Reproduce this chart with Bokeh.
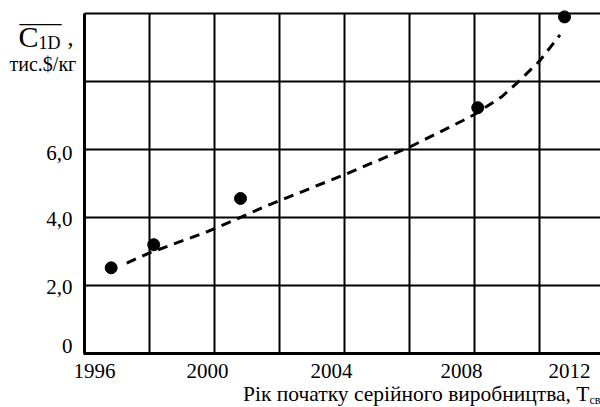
from bokeh.plotting import figure
from bokeh.models import FixedTicker, Label, Range1d
from bokeh.embed import file_html
from bokeh.resources import INLINE

# ---- data ----
dot_years = [1996.82, 1998.13, 2000.8, 2008.1, 2010.77]
dot_values = [2.52, 3.2, 4.56, 7.23, 9.9]

curve_years = [1997.3, 1998.0, 1999.8, 2001.7, 2004.0, 2006.0, 2007.66, 2008.0, 2008.85, 2009.4, 2010.0, 2010.63]
curve_values = [2.66, 2.96, 3.59, 4.38, 5.26, 6.07, 6.86, 7.03, 7.56, 8.04, 8.6, 9.37]

x_tick_years = [1996, 2000, 2004, 2008, 2012]
x_tick_labels = ["1996", "2000", "2004", "2008", "2012"]
y_tick_values = [0, 2, 4, 6]
y_tick_labels = ["0", "2,0", "4,0", "6,0"]
x_grid_years = [1998, 2000, 2002, 2004, 2006, 2008, 2010]
y_grid_values = [2, 4, 6, 8, 10]

x_title = "Рік початку серійного виробництва, Т"
x_title_sub = "св"
y_title_main = "C"
y_title_sub = "1D"
y_units = "тис.$/кг"

# ---- layout ----
FONT = "Liberation Serif"
W, H = 600, 407
AX_X, AX_Y = 84, 353          # page position of the axes' corner
px_per_year = 32.5
px_per_unit = 34.0
x0, y0 = 1996, 0
x_start = x0 - AX_X / px_per_year
x_end = x0 + (W - AX_X) / px_per_year
y_start = y0 - (H - AX_Y) / px_per_unit
y_end = 10 + (AX_Y - 10 * px_per_unit) / px_per_unit
x_label_shift_px = [10, -7, -13, -13, -35]  # tick labels are offset in the original
y_label_shift_px = [8, -1, -1, -3]
x_tick_pos = [v + s / px_per_year for v, s in zip(x_tick_years, x_label_shift_px)]
y_tick_pos = [v + s / px_per_unit for v, s in zip(y_tick_values, y_label_shift_px)]

p = figure(width=W, height=H, output_backend="svg", toolbar_location=None,
           x_range=Range1d(x_start, x_end), y_range=Range1d(y_start, y_end),
           min_border=0, min_border_left=0, min_border_right=0,
           min_border_top=0, min_border_bottom=0)
p.outline_line_color = None
p.background_fill_color = "white"
p.border_fill_color = "white"

# grid
p.xgrid.ticker = FixedTicker(ticks=x_grid_years)
p.ygrid.ticker = FixedTicker(ticks=y_grid_values)
p.xgrid.cross_bounds = (0, 10)
p.ygrid.cross_bounds = (x0, x_end)
for g in (p.xgrid, p.ygrid):
    g.grid_line_color = "black"
    g.grid_line_width = 2
    g.grid_line_alpha = 1

# axes (fixed at the data origin so that the frame covers the whole canvas)
p.xaxis.fixed_location = y0
p.yaxis.fixed_location = x0
p.xaxis.ticker = FixedTicker(ticks=x_tick_pos)
p.xaxis.major_label_overrides = {t: l for t, l in zip(x_tick_pos, x_tick_labels)}
p.yaxis.ticker = FixedTicker(ticks=y_tick_pos)
p.yaxis.major_label_overrides = {t: l for t, l in zip(y_tick_pos, y_tick_labels)}
p.xaxis.bounds = (x0 - 0.04, x_end)
p.yaxis.bounds = (0, 10)
for ax in (p.xaxis, p.yaxis):
    ax.axis_line_width = 3
    ax.axis_line_color = "black"
    ax.major_tick_line_color = None
    ax.minor_tick_line_color = None
    ax.major_label_text_font = FONT
    ax.major_label_text_font_size = "21px"
    ax.major_label_text_color = "black"
p.xaxis.major_label_standoff = 4
p.yaxis.major_label_standoff = 6

# fitted curve and points
p.line(curve_years, curve_values, line_color="black", line_width=3, line_dash="10 7")
p.scatter(dot_years, dot_values, size=12, color="black")

def lab(text, x, y, size, align="left"):
    # x, y: page position of the text's anchor / baseline (empirical baseline correction)
    s = float(size.replace("px", ""))
    p.add_layout(Label(x=x, y=H - (y - 0.33 * s), x_units="screen", y_units="screen", text=text,
                       text_font=FONT, text_font_size=size, text_color="black",
                       text_align=align, text_baseline="alphabetic"))

# x title
lab(x_title, 589, 401, "21.5px", align="right")
lab(x_title_sub, 589, 403, "12px")
# y title
lab(y_title_main, 18, 46, "30px")
lab(y_title_sub, 38, 48, "18px")
lab(",", 67, 45, "24px")
lab("____", 19, 21, "21px")   # overline
lab(y_units, 9, 70, "20px")

open("out.html", "w").write(file_html(p, INLINE))
